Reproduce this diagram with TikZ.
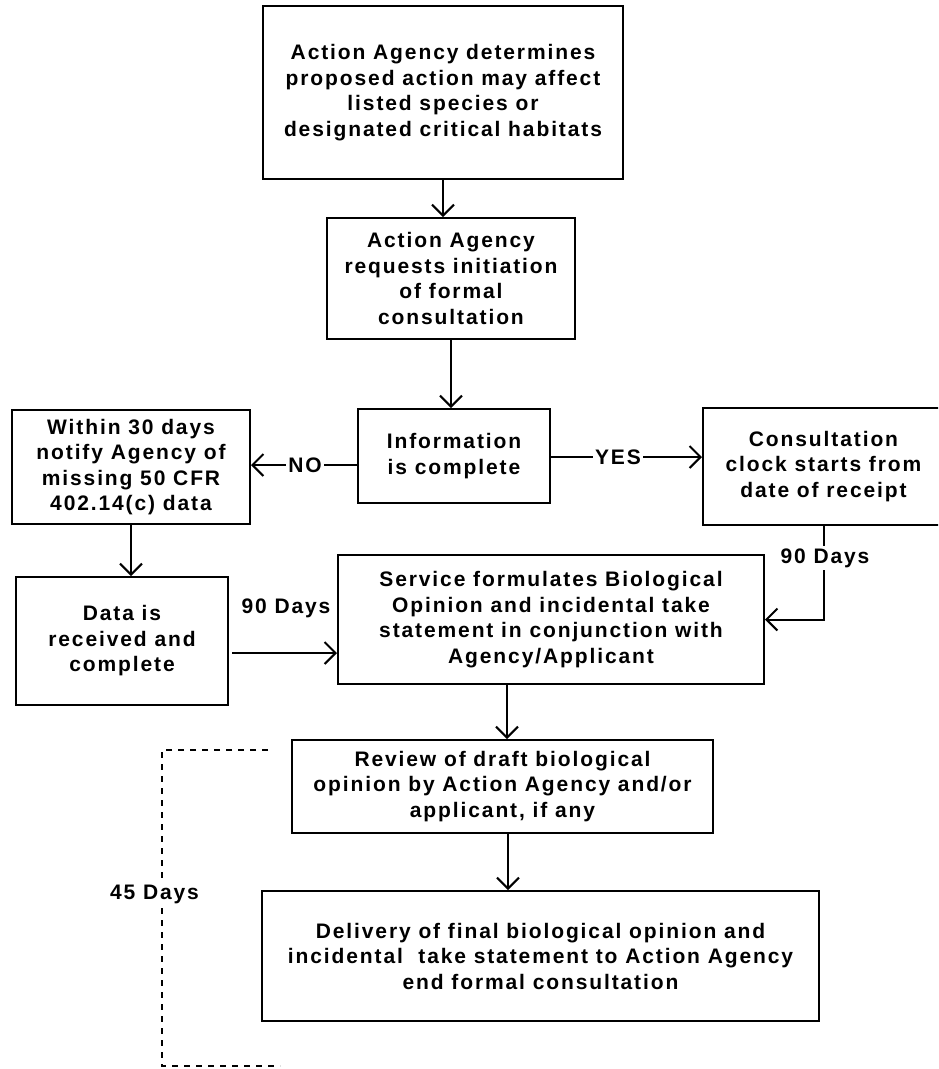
\documentclass[tikz,border=0pt]{standalone}
\usepackage{fontspec}
\setmainfont{Liberation Sans}[LetterSpace=9]
\usetikzlibrary{arrows.meta}
\begin{document}
\begin{tikzpicture}[x=1pt,y=-1pt,
  txt/.style={font=\fontsize{21}{25.5}\selectfont\bfseries},
  box/.style={draw, line width=2pt, inner sep=0pt, align=center, txt},
  arr/.style={line width=2pt, -{Straight Barb[length=11pt,width=22pt]}},
  lbl/.style={txt, inner sep=2pt, fill=white},
  dash45/.style={line width=1.2pt, dash pattern=on 6pt off 6pt}]
\useasboundingbox (0,0) rectangle (938,1069);
\fill[white] (0,0) rectangle (938,1069);
\clip (0,0) rectangle (938,1069);

\node[box, minimum width=360pt, minimum height=173pt] (A) at (443,92.5)
  {Action Agency determines\\proposed action may affect\\listed species or\\designated critical habitats};
\node[box, minimum width=248pt, minimum height=121pt] (B) at (451,278.5)
  {Action Agency\\requests initiation\\of formal\\consultation};
\node[box, minimum width=192pt, minimum height=94pt] (C) at (454,456)
  {Information\\is complete};
\node[box, minimum width=238pt, minimum height=114pt] (D) at (131,467)
  {Within 30 days\\notify Agency of\\missing 50 CFR\\402.14(c) data};
\node[box, minimum width=241pt, minimum height=117pt] (E) at (823.5,466.5)
  {Consultation\\clock starts from\\date of receipt};
\node[box, minimum width=212pt, minimum height=128pt] (I) at (122,641)
  {Data is\\received and\\complete};
\node[box, minimum width=426pt, minimum height=129pt] (F) at (551,619.5)
  {Service formulates Biological\\Opinion and incidental take\\statement in conjunction with\\Agency/Applicant};
\node[box, minimum width=421pt, minimum height=93pt] (G) at (502.5,786.5)
  {Review of draft biological\\opinion by Action Agency and/or\\applicant, if any};
\node[box, minimum width=557pt, minimum height=130pt] (H) at (540.5,956)
  {Delivery of final biological opinion and\\incidental\ \ take statement to Action Agency\\end formal consultation};

\coordinate (yNO) at (0,465);
\coordinate (yYES) at (0,457);
\coordinate (yData) at (0,653);
\coordinate (xFG) at (507,0);
\coordinate (xGH) at (508,0);

\draw[arr] (A.south) -- (A.south |- B.north);
\draw[arr] (B.south) -- (B.south |- C.north);
\draw[arr] (C.west |- yNO) -- (D.east |- yNO);
\draw[arr] (C.east |- yYES) -- (E.west |- yYES);
\draw[arr] (D.south) -- (D.south |- I.north);
\draw[arr] ([xshift=3pt]I.east |- yData) -- (F.west |- yData);
\draw[arr] (E.south) |- (F.east);
\draw[arr] (F.south -| xFG) -- (G.north -| xFG);
\draw[arr] (G.south -| xGH) -- (H.north -| xGH);

\coordinate (d1) at (268,750);
\coordinate (d2) at (162,750);
\coordinate (d3) at (162,1066);
\coordinate (d4) at (280,1066);
\draw[dash45] (d1) -- (d2) -- (d3) -- (d4);

\node[lbl] (no) at (305,465) {NO};
\node[lbl] (yes) at (618,457) {YES};
\node[lbl] (d90r) at (825,558) {90 Days};
\node[txt, inner sep=0pt, anchor=base] (d90l) at (286,613) {90 Days};
\node[lbl, inner sep=1pt, anchor=base] (d45) at (154.5,899) {45 Days};
\end{tikzpicture}
\end{document}
